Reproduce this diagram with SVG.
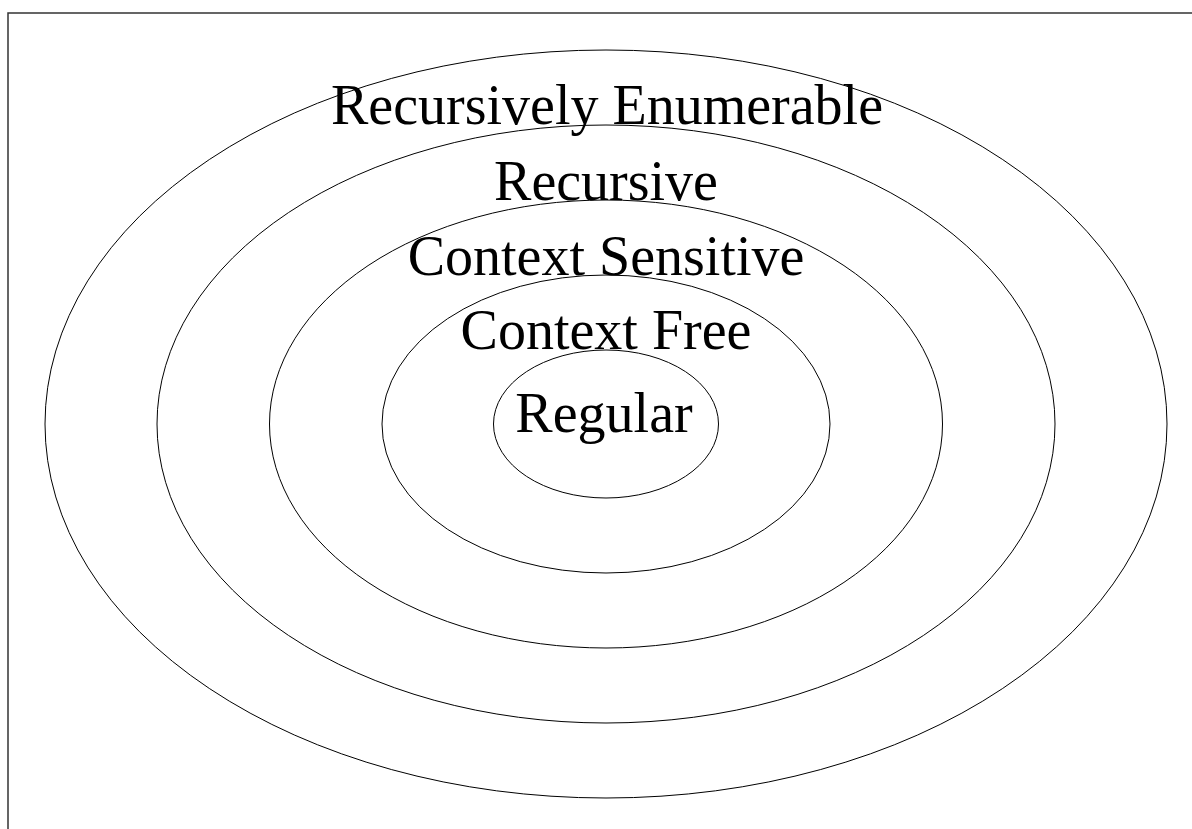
<svg xmlns="http://www.w3.org/2000/svg" width="1192" height="829" viewBox="0 0 1192 829">
<style>
.e{fill:none;stroke:#000;stroke-width:1}
.t{font-family:"Liberation Serif","Times New Roman",serif;font-size:56px;fill:#000;text-anchor:middle}
.f{fill:none;stroke:#333;stroke-width:1.5}
</style>
<rect width="1192" height="829" fill="#fff"/>
<path class="f" d="M8,829 V13 H1192"/>
<g id="re"><ellipse class="e" cx="606" cy="424" rx="561" ry="374"/><text class="t" x="607" y="124">Recursively Enumerable</text></g>
<g id="rec"><ellipse class="e" cx="606" cy="424" rx="449" ry="299"/><text class="t" x="606" y="200">Recursive</text></g>
<g id="cs"><ellipse class="e" cx="606" cy="424" rx="336.5" ry="224"/><text class="t" x="606" y="275">Context Sensitive</text></g>
<g id="cf"><ellipse class="e" cx="606" cy="424" rx="224" ry="149"/><text class="t" x="606" y="349">Context Free</text></g>
<g id="reg"><ellipse class="e" cx="606" cy="424" rx="112.5" ry="74"/><text class="t" x="604" y="432">Regular</text></g>
<g id="connectors"/>
</svg>
